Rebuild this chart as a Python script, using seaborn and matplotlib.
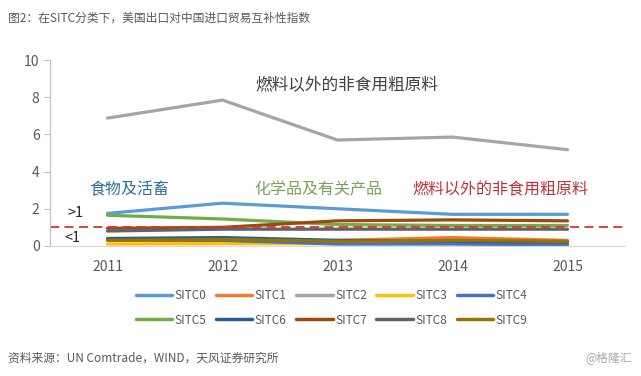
import numpy as np
import pandas as pd
import matplotlib.pyplot as plt
import seaborn as sns

years = [2011, 2012, 2013, 2014, 2015]
sitc0 = [1.75, 2.3, 2.0, 1.7, 1.7]
sitc1 = [0.3, 0.25, 0.3, 0.45, 0.3]
sitc2 = [6.88, 7.85, 5.7, 5.86, 5.18]
sitc3 = [0.1, 0.12, 0.12, 0.18, 0.12]
sitc4 = [0.35, 0.3, 0.1, 0.1, 0.05]
sitc5 = [1.65, 1.45, 1.15, 1.1, 1.1]
sitc6 = [0.4, 0.45, 0.3, 0.25, 0.2]
sitc7 = [0.95, 1.0, 1.35, 1.4, 1.35]
sitc8 = [0.8, 0.9, 0.9, 0.9, 0.9]
sitc9 = [0.3, 0.35, 0.25, 0.3, 0.25]
series_names = ['SITC0', 'SITC1', 'SITC2', 'SITC3', 'SITC4',
                'SITC5', 'SITC6', 'SITC7', 'SITC8', 'SITC9']
threshold = 1.0

colors = ['#5b9bd5', '#ed7d31', '#a5a5a5', '#ffc000', '#4472c4',
          '#70ad47', '#255e91', '#9e480e', '#636363', '#997300']

sns.set_style('white')
plt.rcParams['font.family'] = ['Noto Sans CJK SC', 'DejaVu Sans']

values = [sitc0, sitc1, sitc2, sitc3, sitc4, sitc5, sitc6, sitc7, sitc8, sitc9]
df = pd.DataFrame({
    'year': years * len(series_names),
    'value': np.concatenate(values),
    'series': np.repeat(series_names, len(years)),
})

fig = plt.figure(figsize=(6.41, 3.76), dpi=100)
ax = fig.add_axes([0.078, 0.346, 0.897, 0.494])

sns.lineplot(data=df, x='year', y='value', hue='series', palette=colors,
             hue_order=series_names, linewidth=2.3, ax=ax, legend=False)
ax.axhline(threshold, color='#d9343a', linestyle=(0, (5, 3)), linewidth=1.3)

ax.set_xlim(2010.5, 2015.5)
ax.set_ylim(0, 10)
ax.set_xticks(years)
ax.set_xticklabels([str(y) for y in years])
ax.set_yticks(range(0, 11, 2))
ax.set_xlabel('')
ax.set_ylabel('')
ax.tick_params(axis='y', length=4, color='#bfbfbf', labelsize=10, labelcolor='#595959', direction='out', left=True)
ax.tick_params(axis='x', length=0, labelsize=10, labelcolor='#595959', pad=10)
for s in ['top', 'right']:
    ax.spines[s].set_visible(False)
ax.spines['left'].set_color('#bfbfbf')
ax.spines['bottom'].set_color('#d9d9d9')

# annotations
ax.text(2013.08, 8.7, '燃料以外的非食用粗原料', color='#404040', fontsize=12, ha='center', va='center')
ax.text(2011.19, 3.0, '食物及活畜', color='#2e6e9e', fontsize=11.5, ha='center', va='center')
ax.text(2012.83, 3.0, '化学品及有关产品', color='#77a35a', fontsize=11.5, ha='center', va='center')
ax.text(2014.42, 3.0, '燃料以外的非食用粗原料', color='#c0303a', fontsize=11.5, ha='center', va='center')
ax.text(2010.72, 1.77, '>1', color='#262626', fontsize=10.5, ha='center', va='center')
ax.text(2010.7, 0.43, '<1', color='#262626', fontsize=10.5, ha='center', va='center')

# legend: two rows of five, matplotlib fills column by column
order = [0, 5, 1, 6, 2, 7, 3, 8, 4, 9]
handles = [plt.Line2D([], [], color=colors[i], linewidth=2.5) for i in order]
labels = [series_names[i] for i in order]
fig.legend(handles, labels, loc='center', bbox_to_anchor=(0.517, 0.181),
           ncol=5, frameon=False, fontsize=8.5, handlelength=3.1, handletextpad=0.2,
           columnspacing=0.8, labelspacing=0.95, labelcolor='#595959')

fig.text(0.012, 0.952, '图2：在SITC分类下，美国出口对中国进口贸易互补性指数', fontsize=8.5, color='#595959', va='center')
fig.text(0.012, 0.048, '资料来源：UN Comtrade，WIND，天风证券研究所', fontsize=8.5, color='#595959', va='center')
fig.text(0.985, 0.048, '@格隆汇', fontsize=8.5, color='#a6a6a6', va='center', ha='right')

fig.savefig('out.png', dpi=100)
